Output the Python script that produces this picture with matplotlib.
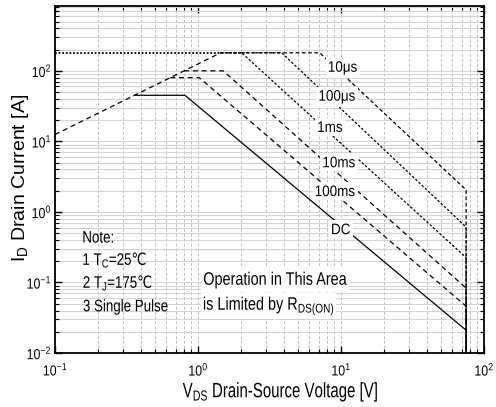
import numpy as np
import matplotlib
matplotlib.use('Agg')
import matplotlib.pyplot as plt
from matplotlib import font_manager
from matplotlib.font_manager import FontProperties
from matplotlib.textpath import TextPath
from matplotlib.patches import PathPatch, Rectangle
from matplotlib.transforms import Affine2D, ScaledTranslation, blended_transform_factory

names = {f.name for f in font_manager.fontManager.ttflist}
base = 'Liberation Sans Narrow' if 'Liberation Sans Narrow' in names else 'Liberation Sans'
plt.rcParams['font.family'] = [base, 'DejaVu Sans']
plt.rcParams['mathtext.fontset'] = 'custom'
plt.rcParams['mathtext.rm'] = base
plt.rcParams['mathtext.it'] = base
plt.rcParams['mathtext.bf'] = base
plt.rcParams['mathtext.sf'] = 'DejaVu Sans'

# limits
rds_v = [0.1, 1.44]
rds_i = [12.5, 180]
idmax_v = [0.1, 1.44]
idmax_i = [180, 180]

# SOA curves (V, I)
labels = ['10\u03bcs', '100\u03bcs', '1ms', '10ms', '100ms', 'DC']
curve_v = [
    [1.44, 7.1, 75, 75],
    [1.44, 3.85, 75, 75],
    [1.44, 2.02, 75, 75],
    [0.80, 1.50, 75, 75],
    [0.64, 1.02, 75, 75],
    [0.36, 0.81, 75, 75],
]
curve_i = [
    [180, 180, 2.05, 0.01],
    [180, 180, 0.61, 0.01],
    [180, 180, 0.225, 0.01],
    [100, 100, 0.083, 0.01],
    [80, 80, 0.046, 0.01],
    [45, 45, 0.021, 0.01],
]
label_pos = [(10.3, 110), (9.4, 42.8), (8.4, 16.1), (9.7, 5.1), (9.1, 1.99), (10.0, 0.574)]
dashes = [(3, 2), (2, 1.5), (2, 1.5), (4, 3), (4, 3), None]

note_lines = ['Note:',
              '1 T$_\\mathregular{C}$=25$\\mathsf{\u2103}$',
              '2 T$_\\mathregular{J}$=175$\\mathsf{\u2103}$',
              '3 Single Pulse']
note_y = [0.442, 0.208, 0.0984, 0.0449]

xticks = [0.1, 1, 10, 100]
yticks = [0.01, 0.1, 1, 10, 100]

fig = plt.figure(figsize=(4.96, 4.07), dpi=100)
ax = fig.add_axes([0.1109, 0.1327, 0.8649, 0.8526])
ax.set_xscale('log')
ax.set_yscale('log')
ax.set_xlim(0.1, 100)
ax.set_ylim(0.01, 830)
fp = FontProperties(family=base)


def squeezed(x, y, s, size, sx, ha='left', va='center', coords=None, box=False):
    # text drawn as a path, narrowed horizontally like the condensed original
    tp = TextPath((0, 0), s, size=size, prop=fp)
    bb = tp.get_extents()
    dx = {'left': -bb.x0, 'center': -(bb.x0 + bb.x1) / 2, 'right': -bb.x1}[ha]
    dy = {'bottom': -bb.y0, 'center': -(bb.y0 + bb.y1) / 2, 'top': -bb.y1}[va]
    tr = (Affine2D().translate(dx, dy).scale(sx * fig.dpi / 72, fig.dpi / 72)
          + ScaledTranslation(x, y, coords if coords is not None else ax.transData))
    if box:
        p = 2.5
        fig.add_artist(Rectangle((bb.x0 - p, bb.y0 - p), bb.width + 2 * p, bb.height + 2 * p,
                                 transform=tr, fc='white', ec='none', zorder=3))
    fig.add_artist(PathPatch(tp, transform=tr, fc='black', ec='none', lw=0, zorder=4))


ax.grid(True, which='both', axis='y', color='#d4d4d4', lw=0.8, ls='-')
ax.grid(True, which='both', axis='x', color='#bdbdbd', lw=0.7, ls=(0, (3, 2)))
ax.set_axisbelow(True)

ax.plot(idmax_v, idmax_i, color='black', lw=1.3, ls=(0, (1, 1)))
ax.plot(rds_v, rds_i, color='black', lw=0.9, ls=(0, (4, 3)))
for v, i, d in zip(curve_v, curve_i, dashes):
    if d is None:
        ax.plot(v, i, color='black', lw=0.9, ls='-')
    else:
        ax.plot(v, i, color='black', lw=0.9, ls=(0, d))

for lab, (x, y) in zip(labels, label_pos):
    squeezed(x, y, lab, 11, 0.88, ha='center', box=True)

for t, y in zip(note_lines, note_y):
    squeezed(0.158, y, t, 12, 0.8)
squeezed(1.10, 0.108, 'Operation in This Area', 13, 0.8, box=True)
squeezed(1.10, 0.0465, 'is Limited by R$_\\mathregular{DS(ON)}$', 13, 0.8, box=True)

ax.tick_params(which='both', direction='in', top=True, right=True,
               labelbottom=False, labelleft=False)
ax.tick_params(which='major', length=5, width=1)
ax.tick_params(which='minor', length=3, width=0.8)
for s in ax.spines.values():
    s.set_linewidth(1.3)

xt = blended_transform_factory(ax.transData, ax.transAxes)
yt = blended_transform_factory(ax.transAxes, ax.transData)
for v in xticks:
    squeezed(v, -0.029, '$\\mathregular{10^{%d}}$' % round(np.log10(v)), 10.5, 0.85,
             ha='center', va='top', coords=xt)
for v in yticks:
    squeezed(-0.0117, v, '$\\mathregular{10^{%d}}$' % round(np.log10(v)), 10.5, 0.85,
             ha='right', coords=yt)

squeezed(0.524, -0.112, 'V$_\\mathregular{DS}$ Drain-Source Voltage [V]', 15, 0.72,
         ha='center', coords=ax.transAxes)
ax.set_ylabel('I$_\\mathregular{D}$ Drain Current [A]', fontsize=14)
ax.yaxis.set_label_coords(-0.056, 0.506)

fig.savefig('out.png', dpi=100)
